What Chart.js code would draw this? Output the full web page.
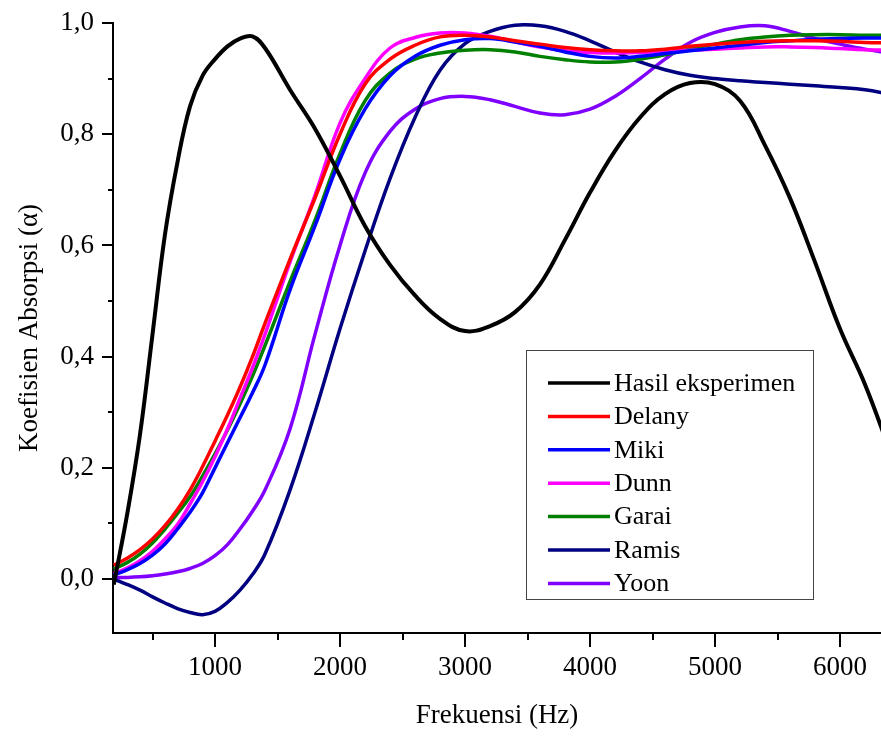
<!DOCTYPE html>
<html>
<head>
<meta charset="utf-8">
<script src="https://cdn.jsdelivr.net/npm/chart.js@4.4.1/dist/chart.umd.min.js"></script>
<style>
  html, body { margin: 0; padding: 0; background: #fff; }
  canvas { display: block; }
</style>
</head>
<body>
<canvas id="chart" width="881" height="736"></canvas>
<script>
// frequency grid (Hz)
const freq = [190, 300, 400, 500, 600, 700, 800, 900, 1000, 1100, 1200, 1300, 1400, 1600, 1800, 2000,
  2200, 2400, 2600, 2800, 3000, 3200, 3400, 3600, 3800, 4000, 4200, 4400, 4600, 4800, 5000,
  5200, 5400, 5600, 5800, 6000, 6200, 6400];

const hasil = [-0.01, 0.12, 0.26, 0.44, 0.62, 0.75, 0.85, 0.905, 0.935, 0.958, 0.972, 0.976, 0.955, 0.88, 0.81, 0.725,
  0.635, 0.565, 0.51, 0.468, 0.446, 0.455, 0.48, 0.53, 0.61, 0.695, 0.77, 0.83, 0.872, 0.892, 0.89,
  0.86, 0.78, 0.685, 0.57, 0.45, 0.35, 0.23];
const delany = [0.025, 0.038, 0.053, 0.072, 0.096, 0.125, 0.16, 0.202, 0.248, 0.295, 0.345, 0.40, 0.46, 0.575, 0.685, 0.80,
  0.89, 0.935, 0.96, 0.975, 0.978, 0.975, 0.968, 0.962, 0.956, 0.952, 0.95, 0.95, 0.953, 0.958, 0.962,
  0.965, 0.967, 0.968, 0.968, 0.967, 0.965, 0.964];
const miki = [0.007, 0.017, 0.028, 0.043, 0.063, 0.09, 0.12, 0.155, 0.20, 0.245, 0.29, 0.335, 0.385, 0.52, 0.635, 0.755,
  0.845, 0.905, 0.94, 0.96, 0.97, 0.972, 0.966, 0.958, 0.948, 0.94, 0.937, 0.94, 0.945, 0.95, 0.955,
  0.96, 0.965, 0.968, 0.971, 0.972, 0.973, 0.973];
const dunn = [0.01, 0.02, 0.033, 0.05, 0.072, 0.098, 0.135, 0.175, 0.22, 0.27, 0.325, 0.38, 0.44, 0.57, 0.69, 0.82,
  0.90, 0.955, 0.974, 0.982, 0.982, 0.976, 0.966, 0.957, 0.95, 0.947, 0.946, 0.947, 0.949, 0.951, 0.953,
  0.955, 0.957, 0.957, 0.956, 0.954, 0.952, 0.951];
const garai = [0.018, 0.03, 0.045, 0.065, 0.09, 0.118, 0.148, 0.185, 0.225, 0.268, 0.315, 0.365, 0.42, 0.535, 0.645, 0.765,
  0.86, 0.91, 0.935, 0.946, 0.951, 0.952, 0.948, 0.94, 0.934, 0.93, 0.93, 0.935, 0.943, 0.953, 0.962,
  0.97, 0.975, 0.978, 0.979, 0.979, 0.978, 0.978];
const ramis = [0.0, -0.01, -0.02, -0.032, -0.043, -0.053, -0.06, -0.064, -0.058, -0.042, -0.02, 0.008, 0.045, 0.16, 0.30, 0.45,
  0.59, 0.72, 0.83, 0.915, 0.963, 0.985, 0.996, 0.995, 0.985, 0.968, 0.948, 0.93, 0.916, 0.906, 0.9,
  0.896, 0.893, 0.89, 0.887, 0.884, 0.88, 0.872];
const yoon = [0.003, 0.003, 0.004, 0.006, 0.009, 0.013, 0.019, 0.028, 0.042, 0.062, 0.09, 0.122, 0.16, 0.27, 0.44, 0.60,
  0.73, 0.805, 0.845, 0.864, 0.868, 0.862, 0.85, 0.838, 0.835, 0.845, 0.868, 0.90, 0.935, 0.965, 0.983,
  0.993, 0.995, 0.985, 0.972, 0.962, 0.953, 0.946];

const seriesNames = ['Hasil eksperimen', 'Delany', 'Miki', 'Dunn', 'Garai', 'Ramis', 'Yoon'];
const seriesColors = ['#000000', '#ff0000', '#0000ff', '#ff00ff', '#008000', '#000080', '#8000ff'];
const seriesValues = [hasil, delany, miki, dunn, garai, ramis, yoon];

const xMajor = [1000, 2000, 3000, 4000, 5000, 6000];
const xMinor = [500, 1500, 2500, 3500, 4500, 5500];
const yMajor = [0.0, 0.2, 0.4, 0.6, 0.8, 1.0];
const yMinor = [0.1, 0.3, 0.5, 0.7, 0.9];

const FONT = 'Liberation Serif, Times New Roman, serif';

// outside tick marks, major and minor
const tickMarks = {
  id: 'tickMarks',
  afterDraw(chart) {
    const { ctx, scales: { x, y } } = chart;
    ctx.save();
    ctx.strokeStyle = '#000';
    ctx.lineWidth = 2;
    ctx.beginPath();
    xMajor.forEach(v => { const p = Math.round(x.getPixelForValue(v)); ctx.moveTo(p, x.top); ctx.lineTo(p, x.top + 14); });
    xMinor.forEach(v => { const p = Math.round(x.getPixelForValue(v)); ctx.moveTo(p, x.top); ctx.lineTo(p, x.top + 7); });
    yMajor.forEach(v => { const p = Math.round(y.getPixelForValue(v)); ctx.moveTo(y.right, p); ctx.lineTo(y.right - 11, p); });
    yMinor.forEach(v => { const p = Math.round(y.getPixelForValue(v)); ctx.moveTo(y.right, p); ctx.lineTo(y.right - 5, p); });
    ctx.stroke();
    ctx.restore();
  }
};

// boxed legend inside the plot
const boxLegend = {
  id: 'boxLegend',
  afterDatasetsDraw(chart) {
    const ctx = chart.ctx;
    const bx = 526, by = 350, bw = 287, bh = 249;
    ctx.save();
    ctx.fillStyle = '#fff';
    ctx.fillRect(bx, by, bw, bh);
    ctx.strokeStyle = '#444';
    ctx.lineWidth = 1;
    ctx.strokeRect(bx + 0.5, by + 0.5, bw, bh);
    ctx.font = '26px ' + FONT;
    ctx.textBaseline = 'middle';
    chart.data.datasets.forEach((ds, i) => {
      const yy = by + 33 + i * 33.4;
      ctx.strokeStyle = ds.borderColor;
      ctx.lineWidth = 3.5;
      ctx.beginPath();
      ctx.moveTo(548, yy);
      ctx.lineTo(610, yy);
      ctx.stroke();
      ctx.fillStyle = '#000';
      ctx.fillText(ds.label, 614, yy + 1);
    });
    ctx.restore();
  }
};

new Chart(document.getElementById('chart'), {
  type: 'line',
  data: {
    datasets: seriesNames.map((name, i) => ({
      label: name,
      data: freq.map((f, j) => ({ x: f, y: seriesValues[i][j] })),
      borderColor: seriesColors[i],
      borderWidth: i === 0 ? 4 : 3.5,
      pointRadius: 0,
      tension: 0.4,
      fill: false
    }))
  },
  options: {
    responsive: false,
    animation: false,
    layout: { padding: { top: 23, right: 0, left: 0, bottom: 0 } },
    plugins: { legend: { display: false }, tooltip: { enabled: false } },
    scales: {
      x: {
        type: 'linear',
        min: 184,
        max: 6328,
        afterFit(scale) { scale.height = 103; scale.paddingLeft = 0; scale.paddingRight = 0; },
        afterBuildTicks(scale) { scale.ticks = xMajor.map(v => ({ value: v })); },
        grid: { drawOnChartArea: false, drawTicks: false },
        border: { color: '#000', width: 2 },
        ticks: { color: '#000', padding: 19, maxRotation: 0, font: { family: FONT, size: 27 }, callback: v => String(v) },
        title: { display: true, text: 'Frekuensi (Hz)', color: '#000', padding: { top: 0, bottom: 4 }, font: { family: FONT, size: 27 } }
      },
      y: {
        min: -0.097,
        max: 1.0,
        afterFit(scale) { scale.width = 113; scale.paddingTop = 0; scale.paddingBottom = 0; },
        afterBuildTicks(scale) { scale.ticks = yMajor.map(v => ({ value: v })); },
        grid: { drawOnChartArea: false, drawTicks: false },
        border: { color: '#000', width: 2 },
        ticks: { color: '#000', padding: 19, font: { family: FONT, size: 27 }, callback: v => v.toFixed(1).replace('.', ',') },
        title: { display: true, text: 'Koefisien Absorpsi (α)', color: '#000', padding: { top: 14, bottom: 0 }, font: { family: FONT, size: 27 } }
      }
    }
  },
  plugins: [tickMarks, boxLegend]
});
</script>
</body>
</html>
